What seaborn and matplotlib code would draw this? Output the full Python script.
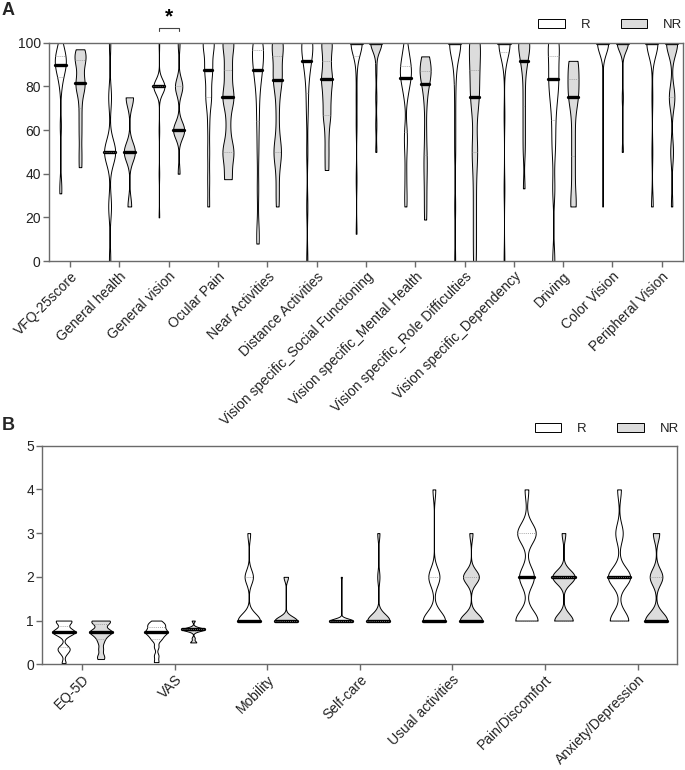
import numpy as np
import pandas as pd
import matplotlib
matplotlib.use("Agg")
import matplotlib.pyplot as plt
import seaborn as sns
from matplotlib.patches import Patch

sns.set_theme(style="ticks")
plt.rcParams['font.family'] = ['Liberation Sans', 'DejaVu Sans']

# ---------------- data ----------------
groups = ["R", "NR"]
group_colors = {"R": "#ffffff", "NR": "#dcdcdc"}

cats_A = ["VFQ-25score", "General health", "General vision", "Ocular Pain",
          "Near Activities", "Distance Activities",
          "Vision specific_Social Functioning", "Vision specific_Mental Health",
          "Vision specific_Role Difficulties", "Vision specific_Dependency",
          "Driving", "Color Vision", "Peripheral Vision"]

vfq_R = [100, 98, 96, 95, 94, 93, 92, 91, 90, 90, 89, 88, 86, 84, 80, 62, 35, 31]
vfq_NR = [97, 96, 95, 93, 92, 90, 86, 82, 81, 80, 78, 72, 65, 58, 50, 43]
gh_R = [0, 25, 25, 50, 50, 50, 50, 50, 50, 50, 50, 75, 75, 100]
gh_NR = [25, 25, 50, 50, 50, 50, 50, 50, 75, 75, 75, 75]
gv_R = [20, 40, 60] + [80] * 20 + [100]
gv_NR = [40, 60, 60, 60, 60, 60, 60, 80, 80, 80, 80, 100]
op_R = [25, 37.5, 50, 62.5, 75, 75, 75, 87.5, 87.5, 87.5, 87.5, 100, 100, 100, 100, 100, 100]
op_NR = [37.5, 37.5, 50, 50, 50, 62.5, 75, 75, 75, 87.5, 87.5, 100, 100, 100]
na_R = [8, 14, 33, 50, 62, 70, 78, 83, 87.5, 87.5, 90, 92, 95, 97, 100, 100, 100, 100]
na_NR = [25, 33, 42, 50, 50, 50, 58, 67, 75, 83, 83, 83, 88, 92, 96, 100, 100, 100, 100]
da_R = [0, 25, 50, 67, 75, 83, 88, 91.7, 91.7, 91.7, 100, 100, 100, 100, 100, 100, 100, 100]
da_NR = [41.7, 50, 58.3, 66.7, 66.7, 75, 75, 83.3, 83.3, 83.3, 91.7, 91.7, 100, 100, 100]
sf_R = [12.5, 37.5, 62.5, 75, 87.5] + [100] * 14
sf_NR = [50, 62.5, 75, 87.5] + [100] * 10
mh_R = [25, 31, 40, 50, 56, 60, 75, 78, 81, 84, 84, 85, 86, 88, 89, 90, 92, 94, 97, 100]
mh_NR = [19, 28, 37, 44, 50, 60, 72, 78, 84, 85, 86, 87, 88, 90, 93.75, 93.75]
rd_R = [0, 25, 50, 62.5, 75, 87.5, 87.5] + [100] * 12
rd_NR = [0, 12.5, 25, 37.5, 50, 50, 62.5, 75, 75, 75, 87.5, 87.5, 87.5, 100, 100, 100, 100]
dep_R = [0, 33.3, 66.7, 91.7, 91.7] + [100] * 14
dep_NR = [33.3, 50, 58.3, 66.7, 75, 83.3, 91.7, 91.7, 91.7, 100, 100, 100, 100, 100, 100]
drv_R = [0, 33.3, 50, 58.3, 66.7, 75, 75, 83.3, 83.3, 83.3, 91.7, 91.7, 100, 100, 100, 100]
drv_NR = [25, 25, 33.3, 41.7, 50, 58.3, 66.7, 75, 75, 75, 83.3, 83.3, 83.3, 91.7, 91.7, 91.7]
cv_R = [25, 50, 75] + [100] * 14
cv_NR = [50, 75] + [100] * 10
pv_R = [25, 25, 50, 75] + [100] * 13
pv_NR = [25, 50, 50, 75, 75, 75, 75] + [100] * 8

A_R = [vfq_R, gh_R, gv_R, op_R, na_R, da_R, sf_R, mh_R, rd_R, dep_R, drv_R, cv_R, pv_R]
A_NR = [vfq_NR, gh_NR, gv_NR, op_NR, na_NR, da_NR, sf_NR, mh_NR, rd_NR, dep_NR, drv_NR, cv_NR, pv_NR]

cats_B = ["EQ-5D", "VAS", "Mobility", "Self-care", "Usual activities",
          "Pain/Discomfort", "Anxiety/Depression"]

eq_R = [1.0, 1.0, 1.0, 0.95, 0.85, 0.76, 0.75, 0.74, 0.74, 0.72, 0.65, 0.40, 0.36, 0.33, 0.25, 0.03]
eq_NR = [1.0, 1.0, 1.0, 0.95, 0.9, 0.8, 0.76, 0.74, 0.74, 0.72, 0.65, 0.6, 0.5, 0.35, 0.2, 0.12]
vas_R = [1.0, 0.95, 0.9, 0.9, 0.85, 0.8, 0.75, 0.74, 0.74, 0.7, 0.65, 0.6, 0.55, 0.4, 0.2, 0.05]
vas_NR = [1.0, 0.85, 0.82, 0.8, 0.8, 0.8, 0.8, 0.8, 0.78, 0.75, 0.6, 0.5, 0.5]
mob_R = [1] * 8 + [2] * 3 + [3]
mob_NR = [1] * 10 + [2] * 2
sc_R = [1] * 20 + [2]
sc_NR = [1] * 10 + [2, 3]
ua_R = [1] * 8 + [2] * 4 + [4]
ua_NR = [1] * 7 + [2] * 5 + [3]
pd_R = [1] * 6 + [2] * 4 + [3] * 5 + [4]
pd_NR = [1] * 5 + [2] * 6 + [3]
ad_R = [1] * 5 + [2] * 6 + [3] * 2 + [4]
ad_NR = [1] * 7 + [2] * 4 + [3] * 2

B_R = [eq_R, vas_R, mob_R, sc_R, ua_R, pd_R, ad_R]
B_NR = [eq_NR, vas_NR, mob_NR, sc_NR, ua_NR, pd_NR, ad_NR]


def long_df(cats, r_lists, nr_lists):
    rows = []
    for c, r, nr in zip(cats, r_lists, nr_lists):
        rows += [(c, "R", float(v)) for v in r]
        rows += [(c, "NR", float(v)) for v in nr]
    return pd.DataFrame(rows, columns=["cat", "grp", "val"])


dfA = long_df(cats_A, A_R, A_NR)
dfB = long_df(cats_B, B_R, B_NR)

# ---------------- figure ----------------
fig = plt.figure(figsize=(6.85, 7.7), dpi=100)
axA = fig.add_axes([0.0715, 0.661, 0.9255, 0.2835])
axB = fig.add_axes([0.0618, 0.1373, 0.927, 0.2839])

spine_col = "#6a6a6a"
text_col = "#222222"


def draw(ax, df, cats, gap, bw):
    sns.violinplot(data=df, x="cat", y="val", hue="grp", order=cats,
                   hue_order=groups, palette=group_colors, saturation=1,
                   width=0.8, gap=gap, cut=0, bw_adjust=bw,
                   density_norm="width", inner="quart", linecolor="black",
                   linewidth=0.7, gridsize=400, legend=False, ax=ax)
    for i, ln in enumerate(ax.lines):
        if i % 3 == 1:
            ln.set_linestyle("-")
            ln.set_linewidth(2.4)
            ln.set_color("black")
        else:
            ln.set_linestyle((0, (1, 1.5)))
            ln.set_linewidth(0.6)
            ln.set_color("#8a8a8a")
    ax.set_xlabel("")
    ax.set_ylabel("")
    for s in ax.spines.values():
        s.set_visible(True)
        s.set_color(spine_col)
        s.set_linewidth(1.0)
    ax.tick_params(axis="both", direction="out", length=4, width=1,
                   color=spine_col, labelsize=10, labelcolor=text_col, pad=2)
    ax.set_xticks(range(len(cats)))
    ax.set_xticklabels(cats, rotation=45, ha="right", rotation_mode="anchor")
    ax.set_xlim(-0.43, len(cats) - 0.57)


draw(axA, dfA, cats_A, 0.44, 0.4)
axA.set_ylim(0, 100)
axA.set_yticks(np.arange(0, 101, 20))

draw(axB, dfB, cats_B, 0.40, 0.4)
axB.set_ylim(0, 5)
axB.set_yticks(np.arange(0, 6, 1))

# significance marker over General vision
gv = cats_A.index("General vision")
axA.plot([gv - 0.2, gv - 0.2, gv + 0.2, gv + 0.2], [105.2, 106.7, 106.7, 105.2],
         color="#444444", lw=0.8, clip_on=False)
axA.text(gv, 112, "*", ha="center", va="center", fontsize=15,
         fontweight="bold", color="black", clip_on=False)

# legends
handles = [Patch(facecolor=group_colors[g], edgecolor="black", linewidth=0.7)
           for g in groups]
for ax, anchor in [(axA, (0.772, 1.08)), (axB, (0.776, 1.076))]:
    ax.legend(handles, groups, loc="center left", bbox_to_anchor=anchor,
              ncol=2, frameon=False, handlelength=2.0, handleheight=0.6,
              handletextpad=1.2, columnspacing=2.3, borderaxespad=0,
              borderpad=0, fontsize=9.5, labelcolor=text_col)

fig.text(0.002, 0.997, "A", fontsize=13, fontweight="bold", va="top", ha="left")
fig.text(0.003, 0.459, "B", fontsize=13, fontweight="bold", va="top", ha="left")

fig.savefig("out.png", dpi=100, facecolor="white")
